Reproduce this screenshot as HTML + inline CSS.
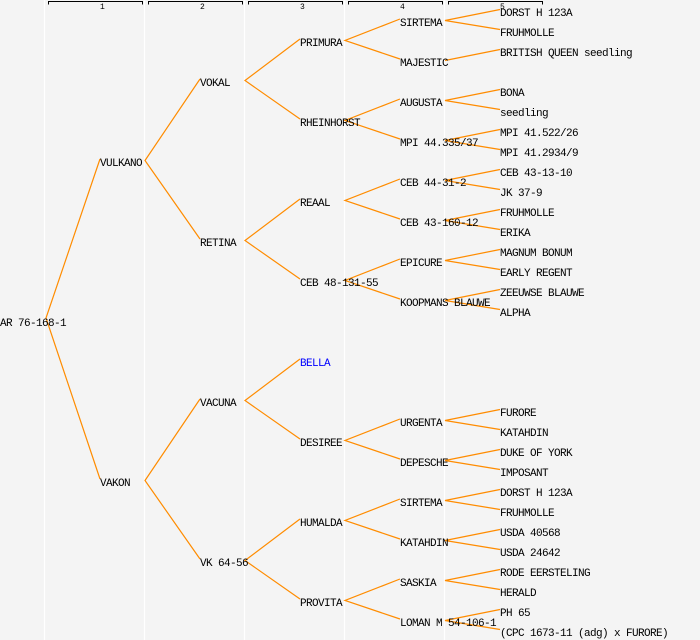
<!DOCTYPE html>
<html><head><meta charset="utf-8"><style>
html,body{margin:0;padding:0;background:#f4f4f4;}
svg{display:block;}
text{font-family:"Liberation Mono","DejaVu Sans Mono",monospace;font-size:11px;letter-spacing:-0.6px;fill:#000;}
.n{font-size:8px;letter-spacing:0;}
</style></head><body>
<svg width="700" height="640" viewBox="0 0 700 640" xmlns="http://www.w3.org/2000/svg">
<rect width="700" height="640" fill="#f4f4f4"/>
<g stroke="#ffffff" stroke-width="1.2">
<line x1="44.5" y1="0" x2="44.5" y2="640"/><line x1="144.5" y1="0" x2="144.5" y2="640"/><line x1="244.5" y1="0" x2="244.5" y2="640"/><line x1="344.5" y1="0" x2="344.5" y2="640"/><line x1="444.5" y1="0" x2="444.5" y2="640"/>
</g>
<g stroke="#000" stroke-width="1" fill="none">
<path d="M48.5 4.5V1.5H142.5V4.5"/><path d="M148.5 4.5V1.5H242.5V4.5"/><path d="M248.5 4.5V1.5H342.5V4.5"/><path d="M348.5 4.5V1.5H442.5V4.5"/><path d="M448.5 4.5V1.5H542.5V4.5"/>
</g>
<text class="n" x="100" y="9">1</text><text class="n" x="200" y="9">2</text><text class="n" x="300" y="9">3</text><text class="n" x="400" y="9">4</text><text class="n" x="500" y="9">5</text>
<g stroke="#ff8c00" stroke-width="1.2" fill="none">
<path d="M100 159L46 318L100 479"/>
<path d="M200 79L145 160.5L200 239"/><path d="M200 399L145 480.5L200 559"/>
<path d="M300 39L245 80.5L300 119"/><path d="M300 199L245 240.5L300 279"/><path d="M300 359L245 400.5L300 439"/><path d="M300 519L245 560.5L300 599"/>
<path d="M400 19L345 40.5L400 59"/><path d="M400 99L345 120.5L400 139"/><path d="M400 179L345 200.5L400 219"/><path d="M400 259L345 280.5L400 299"/><path d="M400 419L345 440.5L400 459"/><path d="M400 499L345 520.5L400 539"/><path d="M400 579L345 600.5L400 619"/>
<path d="M500 9.5L445 20.5L500 29.5"/><path d="M445 60.5L500 49.5"/>
<path d="M500 89.5L445 100.5L500 109.5"/><path d="M500 129.5L445 140.5L500 149.5"/><path d="M500 169.5L445 180.5L500 189.5"/><path d="M500 209.5L445 220.5L500 229.5"/><path d="M500 249.5L445 260.5L500 269.5"/><path d="M500 289.5L445 300.5L500 309.5"/>
<path d="M500 409.5L445 420.5L500 429.5"/><path d="M500 449.5L445 460.5L500 469.5"/><path d="M500 489.5L445 500.5L500 509.5"/><path d="M500 529.5L445 540.5L500 549.5"/><path d="M500 569.5L445 580.5L500 589.5"/><path d="M500 609.5L445 620.5L500 629.5"/>
</g>
<text x="-6" y="326">CAR 76-168-1</text>
<text x="100" y="166">VULKANO</text><text x="100" y="486">VAKON</text>
<text x="200" y="86">VOKAL</text><text x="200" y="246">RETINA</text><text x="200" y="406">VACUNA</text><text x="200" y="566">VK 64-56</text>
<text x="300" y="46">PRIMURA</text><text x="300" y="126">RHEINHORST</text><text x="300" y="206">REAAL</text><text x="300" y="286">CEB 48-131-55</text><text x="300" y="366" style="fill:#0000ff">BELLA</text><text x="300" y="446">DESIREE</text><text x="300" y="526">HUMALDA</text><text x="300" y="606">PROVITA</text>
<text x="400" y="26">SIRTEMA</text><text x="400" y="66">MAJESTIC</text><text x="400" y="106">AUGUSTA</text><text x="400" y="146">MPI 44.335/37</text><text x="400" y="186">CEB 44-31-2</text><text x="400" y="226">CEB 43-160-12</text><text x="400" y="266">EPICURE</text><text x="400" y="306">KOOPMANS BLAUWE</text><text x="400" y="426">URGENTA</text><text x="400" y="466">DEPESCHE</text><text x="400" y="506">SIRTEMA</text><text x="400" y="546">KATAHDIN</text><text x="400" y="586">SASKIA</text><text x="400" y="626">LOMAN M 54-106-1</text>
<text x="500" y="16">DORST H 123A</text><text x="500" y="36">FRUHMOLLE</text><text x="500" y="56">BRITISH QUEEN seedling</text>
<text x="500" y="96">BONA</text><text x="500" y="116">seedling</text><text x="500" y="136">MPI 41.522/26</text><text x="500" y="156">MPI 41.2934/9</text>
<text x="500" y="176">CEB 43-13-10</text><text x="500" y="196">JK 37-9</text><text x="500" y="216">FRUHMOLLE</text><text x="500" y="236">ERIKA</text>
<text x="500" y="256">MAGNUM BONUM</text><text x="500" y="276">EARLY REGENT</text><text x="500" y="296">ZEEUWSE BLAUWE</text><text x="500" y="316">ALPHA</text>
<text x="500" y="416">FURORE</text><text x="500" y="436">KATAHDIN</text><text x="500" y="456">DUKE OF YORK</text><text x="500" y="476">IMPOSANT</text>
<text x="500" y="496">DORST H 123A</text><text x="500" y="516">FRUHMOLLE</text><text x="500" y="536">USDA 40568</text><text x="500" y="556">USDA 24642</text>
<text x="500" y="576">RODE EERSTELING</text><text x="500" y="596">HERALD</text><text x="500" y="616">PH 65</text><text x="500" y="636">(CPC 1673-11 (adg) x FURORE)</text>
</svg>
</body></html>
